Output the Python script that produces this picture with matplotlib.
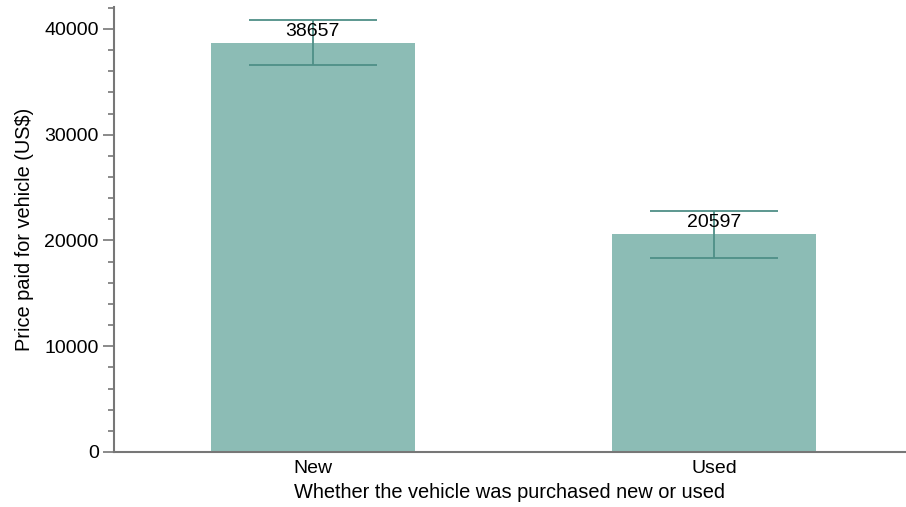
import matplotlib.pyplot as plt
from matplotlib.ticker import MultipleLocator

categories = ['New', 'Used']
prices = [38657, 20597]
err_lower = [36600, 18350]
err_upper = [40850, 22790]

plt.rcParams['font.family'] = ['Liberation Sans', 'DejaVu Sans']

fig = plt.figure(figsize=(9.06, 5.07), dpi=100)
ax = fig.add_axes([114 / 906, 1 - 452 / 507, 1 - 114 / 906, (452 - 7) / 507])

x = range(len(categories))
ax.bar(x, prices, width=0.51, color='#8cbcb5', zorder=1)

err_col = '#4f8f87'
for i, p in enumerate(prices):
    ax.vlines(i, err_lower[i], err_upper[i], color=err_col, lw=1.3, zorder=2)
    ax.hlines([err_lower[i], err_upper[i]], i - 0.16, i + 0.16, color=err_col, lw=1.3, zorder=2)
    ax.annotate(str(p), (i, p), xytext=(0, 2), textcoords='offset points',
                ha='center', va='bottom', fontsize=14, color='black', zorder=3)

ax.set_xlim(-0.496, 1.479)
ax.set_ylim(0, 42080)
ax.set_xticks(list(x))
ax.set_xticklabels(categories)
ax.yaxis.set_major_locator(MultipleLocator(10000))
ax.yaxis.set_minor_locator(MultipleLocator(2000))

for s in ['top', 'right']:
    ax.spines[s].set_visible(False)
for s in ['left', 'bottom']:
    ax.spines[s].set_color('#777777')
    ax.spines[s].set_linewidth(1.5)

ax.tick_params(axis='y', which='major', length=8, width=1.2, color='#777777', labelsize=14, pad=3)
ax.tick_params(axis='y', which='minor', length=4, width=1.2, color='#777777')
ax.tick_params(axis='x', length=0, labelsize=14, pad=6)

ax.set_xlabel('Whether the vehicle was purchased new or used', fontsize=14.4, labelpad=4)
ax.set_ylabel('Price paid for vehicle (US$)', fontsize=14.4, labelpad=7)

fig.savefig('out.png', dpi=100)
